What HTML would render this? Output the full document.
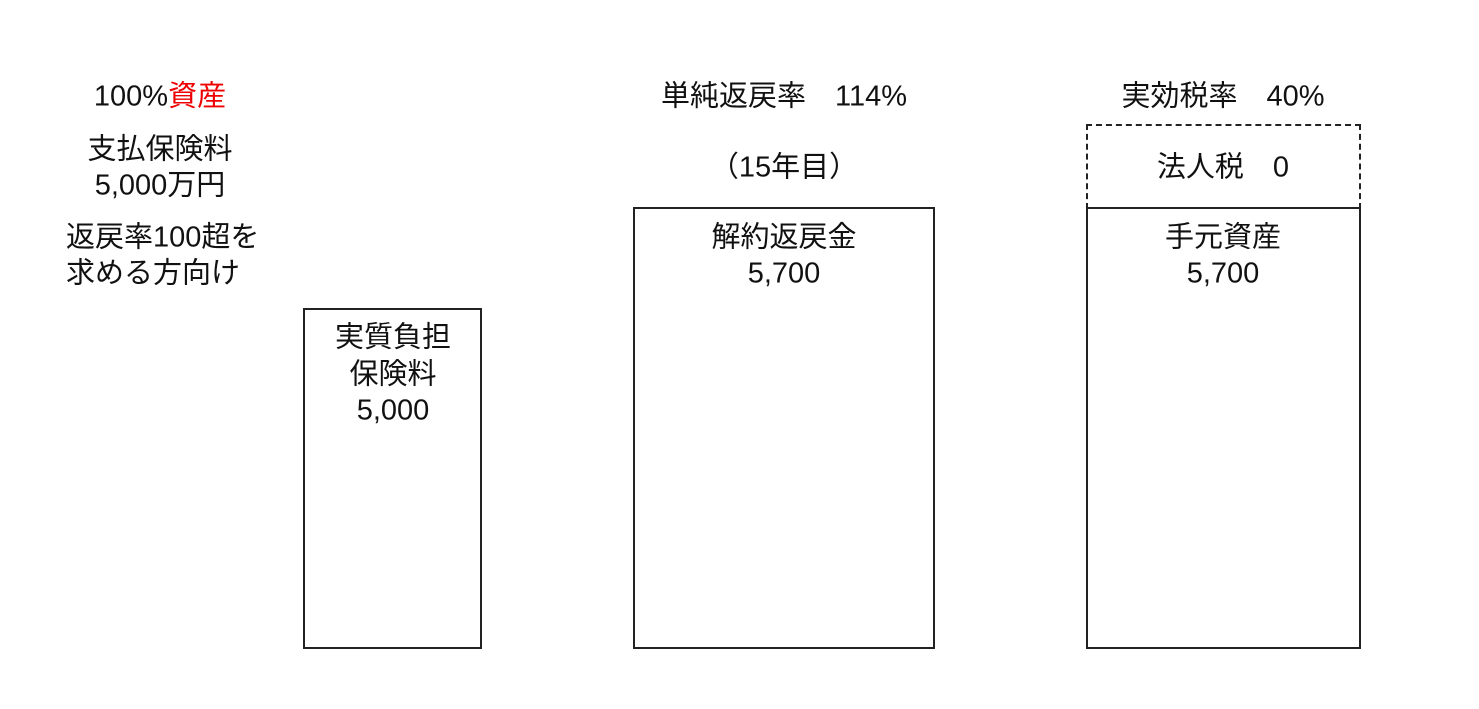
<!DOCTYPE html>
<html><head><meta charset="utf-8"><style>
html,body{margin:0;padding:0;background:#fff;}
body{width:1479px;height:709px;position:relative;overflow:hidden;font-family:"Liberation Sans","Noto Sans CJK JP",sans-serif;font-size:29px;color:#111;}
.t{position:absolute;white-space:nowrap;transform:translate(-50%,-50%);line-height:1;}
.l{position:absolute;white-space:nowrap;transform:translateY(-50%);line-height:1;}
.b{position:absolute;border:2px solid #222;box-sizing:border-box;}
</style></head><body>
<div class="b" style="left:303px;top:308px;width:179px;height:341px"></div>
<div class="b" style="left:633px;top:207px;width:302px;height:442px"></div>
<div class="b" style="left:1086px;top:207px;width:275px;height:442px"></div>
<div class="b" style="left:1086px;top:124px;width:275px;height:85px;border-style:dashed;border-bottom:none;border-width:2px"></div>

<div class="t" style="left:160px;top:97px">100%<span style="color:#e00">資産</span></div>
<div class="t" style="left:160px;top:150px">支払保険料</div>
<div class="t" style="left:160px;top:186px">5,000万円</div>
<div class="l" style="left:66px;top:238px">返戻率100超を</div>
<div class="l" style="left:66px;top:274px">求める方向け</div>

<div class="t" style="left:393px;top:338px">実質負担</div>
<div class="t" style="left:393px;top:375px">保険料</div>
<div class="t" style="left:393px;top:411px">5,000</div>

<div class="t" style="left:784px;top:97px">単純返戻率　114%</div>
<div class="t" style="left:784px;top:168px">（15年目）</div>
<div class="t" style="left:784px;top:238px">解約返戻金</div>
<div class="t" style="left:784px;top:274px">5,700</div>

<div class="t" style="left:1223px;top:97px">実効税率　40%</div>
<div class="t" style="left:1223px;top:168px">法人税　0</div>
<div class="t" style="left:1223px;top:238px">手元資産</div>
<div class="t" style="left:1223px;top:274px">5,700</div>
</body></html>
